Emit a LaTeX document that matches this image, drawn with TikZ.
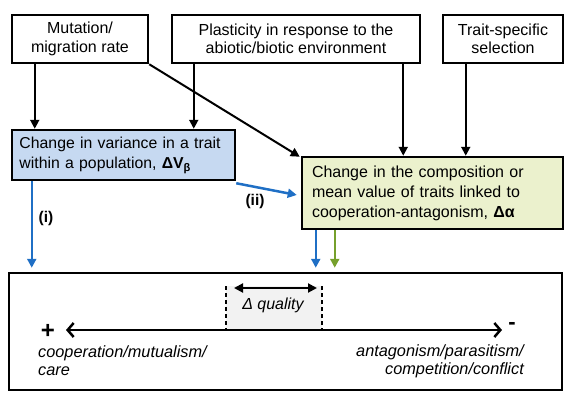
\documentclass[tikz,border=0pt]{standalone}
\usepackage{fontspec}
\setmainfont{Liberation Sans}
\usetikzlibrary{arrows.meta}
\definecolor{bluefill}{RGB}{198,217,241}
\definecolor{greenfill}{RGB}{235,241,205}
\definecolor{arrblue}{RGB}{31,111,197}
\definecolor{arrgreen}{RGB}{118,160,44}
\definecolor{qgray}{RGB}{242,242,242}
\begin{document}
\begin{tikzpicture}[x=1pt,y=-1pt,
  box/.style={draw=black, line width=2.5pt, inner sep=0pt, align=center,
    font=\fontsize{16}{18.5}\selectfont},
  tbox/.style={draw=black, line width=2.5pt, inner ysep=0pt, align=left,
    font=\fontsize{16}{20}\selectfont},
  arr/.style={-{Triangle[length=9pt,width=9pt]}, line width=2pt},
  barr/.style={arr, draw=arrblue, line width=2.5pt},
  garr/.style={arr, draw=arrgreen, line width=2.5pt},
  lbl/.style={font=\fontsize{15.5}{18}\selectfont\bfseries},
  itxt/.style={font=\fontsize{16.3}{18}\selectfont\itshape},
]
\useasboundingbox (0,0) rectangle (571,394);

% top boxes
\node[box, minimum width=136pt, minimum height=48pt] (mut) at (80,39) {Mutation/\\migration rate};
\node[box, minimum width=248pt, minimum height=48pt] (plast) at (296,39) {Plasticity in response to the\\abiotic/biotic environment};
\node[box, minimum width=120pt, minimum height=48pt] (sel) at (503,39) {Trait-specific\\selection};

% middle boxes
\node[tbox, fill=bluefill, text width=208pt, inner xsep=7.5pt, minimum height=50pt,
  font=\fontsize{15.8}{20}\selectfont] (var) at (123.5,155)
  {Change in variance in a trait\\within a population, \textbf{ΔV\textsubscript{β}}};
\node[tbox, fill=greenfill, text width=241pt, inner xsep=10pt, minimum height=72pt] (comp) at (432.5,193)
  {Change in the composition or\\mean value of traits linked to\\cooperation-antagonism, \textbf{Δα}};

% bottom box
\node[draw=black, line width=2.5pt, minimum width=553pt, minimum height=117pt, inner sep=0pt] (scale) at (285.5,331.5) {};

% arrows from top boxes
\draw[arr] ([xshift=24pt]mut.south west) -- ([xshift=24pt]var.north west);
\draw[arr] ([xshift=23pt]plast.south west) -- ([xshift=23pt]plast.south west |- var.north);
\draw[arr] (mut.south east) -- ([xshift=-1pt,yshift=-1pt]comp.north west);
\draw[arr] ([xshift=-18pt]plast.south east) -- ([xshift=-18pt]plast.south east |- comp.north);
\draw[arr] ([xshift=24pt]sel.south west) -- ([xshift=24pt]sel.south west |- comp.north);

% blue and green arrows
\draw[barr, shorten >=4pt] ([xshift=21pt]var.south west) -- ([xshift=21pt]var.south west |- scale.north);
\draw[barr] ([yshift=-2pt]var.south east) -- ([xshift=-4pt,yshift=-2pt]comp.west);
\draw[barr, shorten >=4pt] ([xshift=15pt]comp.south west) -- ([xshift=15pt]comp.south west |- scale.north);
\draw[garr, shorten >=4pt] ([xshift=34pt]comp.south west) -- ([xshift=34pt]comp.south west |- scale.north);

\node[lbl] (li) at (46,218) {(i)};
\node[lbl] (lii) at (255,201) {(ii)};

% quality box
\coordinate (qtl) at (226,286);
\coordinate (qtr) at (322,286);
\coordinate (qbl) at (226,330);
\coordinate (qbr) at (322,330);
\fill[qgray] (qtl) rectangle (qbr);
\draw[dashed, line width=1.8pt, dash pattern=on 4pt off 3pt] (qtl) -- (qbl);
\draw[dashed, line width=1.8pt, dash pattern=on 4pt off 3pt] (qtr) -- (qbr);
\coordinate (dqL) at (234,288);
\coordinate (dqR) at (317,288);
\draw[{Triangle[length=9pt,width=9pt]}-{Triangle[length=9pt,width=9pt]}, line width=2pt] (dqL) -- (dqR);
\node[font=\fontsize{16}{18}\selectfont\itshape] (dq) at (273,305) {Δ quality};

% axis
\coordinate (axL) at (66,330);
\coordinate (axR) at (502,330);
\draw[{Straight Barb[length=6pt,width=14pt,line width=2.5pt]}-{Straight Barb[length=6pt,width=14pt,line width=2.5pt]}, line width=2.2pt] (axL) -- (axR);
\node[font=\fontsize{24}{24}\selectfont] (plus) at (48,331) {\textbf{+}};
\node[font=\fontsize{22}{22}\selectfont\bfseries] (minus) at (512,326) {-};

\node[itxt, anchor=west, align=left, inner sep=0pt] (coop) at (38,361) {cooperation/mutualism/\\care};
\node[itxt, anchor=east, align=right, inner sep=0pt] (anta) at (524,361) {antagonism/parasitism/\\competition/conflict};
\end{tikzpicture}
\end{document}
